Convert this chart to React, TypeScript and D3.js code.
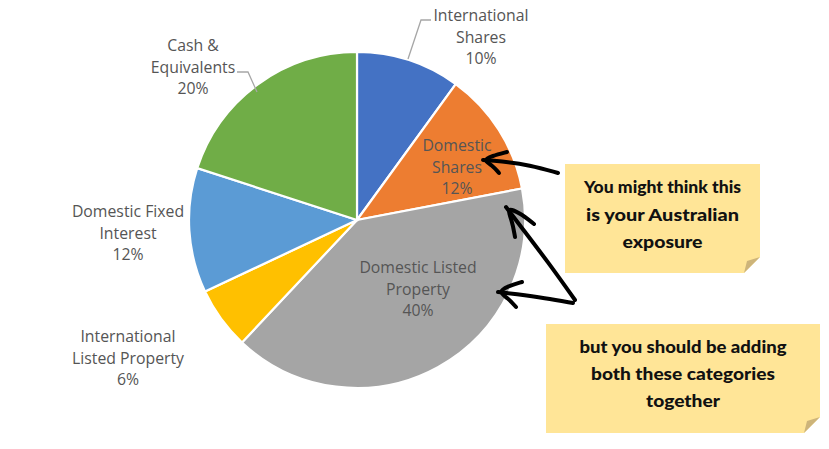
import React from "react";
import * as d3 from "d3";

// Asset allocation shares (percent)
const categories = [
  "International Shares",
  "Domestic Shares",
  "Domestic Listed Property",
  "International Listed Property",
  "Domestic Fixed Interest",
  "Cash & Equivalents",
];
const values = [10, 12, 40, 6, 12, 20];
const colors = ["#4472C4", "#ED7D31", "#A5A5A5", "#FFC000", "#5B9BD5", "#70AD47"];

// Label text broken into lines, one entry per category
const labelLines = [
  ["International", "Shares"],
  ["Domestic", "Shares"],
  ["Domestic Listed", "Property"],
  ["International", "Listed Property"],
  ["Domestic Fixed", "Interest"],
  ["Cash &", "Equivalents"],
];

// Label anchor (centre of first line), relative to pie centre
const labelAnchors: [number, number][] = [
  [124, -205],
  [100, -75],
  [61, 47],
  [-229, 116],
  [-229, -9],
  [-164, -175],
];

// Leader lines from outside labels to their slices
const leaders: [number, number][][] = [
  [[74, -200], [64, -200], [51, -161]],
  [], [], [], [],
  [[-120, -148], [-109, -148], [-100, -128]],
];

const noteLines1 = ["You might think this", "is your Australian", "exposure"];
const noteLines2 = ["but you should be adding", "both these categories", "together"];

const W = 829;
const H = 449;
const cx = 357;
const cy = 220;
const R = 168;

const handFont = "Lato, 'Open Sans', sans-serif";

function Note({ x, y, w, h, lines, lineY, widths }: {
  x: number; y: number; w: number; h: number; lines: string[]; lineY: number[]; widths: number[];
}) {
  const f = 16;
  return (
    <g>
      <path
        d={`M${x},${y}H${x + w}V${y + h - f}L${x + w - f},${y + h}H${x}Z`}
        fill="#FFE597"
      />
      <path
        d={`M${x + w},${y + h - f}L${x + w - f},${y + h}L${x + w - f + 3},${y + h - f + 4}Z`}
        fill="#CDB47A"
      />
      {lines.map((t, i) => (
        <text
          key={i}
          x={x + w / 2}
          y={lineY[i]}
          textAnchor="middle"
          dominantBaseline="central"
          fontFamily={handFont}
          fontWeight={900}
          fontSize={17}
          fill="#111"
          textLength={widths[i]}
          lengthAdjust="spacingAndGlyphs"
        >
          {t}
        </text>
      ))}
    </g>
  );
}

export default function App() {
  const pie = d3.pie<number>().sort(null).value((d) => d).startAngle(0).endAngle(2 * Math.PI);
  const arcs = pie(values);
  const arc = d3.arc<d3.PieArcDatum<number>>().innerRadius(0).outerRadius(R);
  const line = d3.line<[number, number]>();
  const curve = d3.line<[number, number]>().curve(d3.curveBasis);

  const total = d3.sum(values);

  return (
    <svg width={W} height={H} style={{ display: "block", position: "absolute", left: 0, top: 0 }}>
      <rect width={W} height={H} fill="#fff" />
      <g transform={`translate(${cx},${cy})`}>
        {arcs.map((a, i) => (
          <path key={i} d={arc(a) || ""} fill={colors[i]} stroke="#fff" strokeWidth={2.2} />
        ))}
        {leaders.map((pts, i) =>
          pts.length ? (
            <path key={i} d={line(pts) || ""} fill="none" stroke="#A6A6A6" strokeWidth={1.3} />
          ) : null
        )}
        {arcs.map((a, i) => {
          const [lx, ly] = labelAnchors[i];
          const lines = [...labelLines[i], `${Math.round((a.value / total) * 100)}%`];
          return (
            <text
              key={i}
              fontFamily="'Open Sans', sans-serif"
              fontSize={15.8}
              fill="#555"
              textAnchor="middle"
            >
              {lines.map((t, j) => (
                <tspan key={j} x={lx} y={ly + j * 21.6} dominantBaseline="central">
                  {t}
                </tspan>
              ))}
            </text>
          );
        })}
      </g>

      <Note x={565} y={164} w={195} h={109} lines={noteLines1} lineY={[186, 214, 241]} widths={[157, 153, 80]} />
      <Note x={546} y={324} w={274} h={109} lines={noteLines2} lineY={[346, 373, 400]} widths={[207, 184, 74]} />

      {/* hand-drawn arrows */}
      <g fill="none" stroke="#000" strokeWidth={4} strokeLinecap="round" strokeLinejoin="round">
        <path d={curve([[558, 173], [530, 165], [500, 161], [483, 160]]) || ""} />
        <path d={curve([[507, 152], [492, 156], [483, 160], [492, 165], [499, 173]]) || ""} />
        <path d={curve([[575, 300], [548, 262], [522, 228], [506, 207]]) || ""} />
        <path d={curve([[515, 237], [512, 220], [506, 207], [520, 213], [534, 224]]) || ""} />
        <path d={curve([[573, 303], [545, 298], [515, 294], [498, 292]]) || ""} />
        <path d={curve([[522, 282], [508, 286], [498, 292], [508, 298], [516, 307]]) || ""} />
      </g>
    </svg>
  );
}
